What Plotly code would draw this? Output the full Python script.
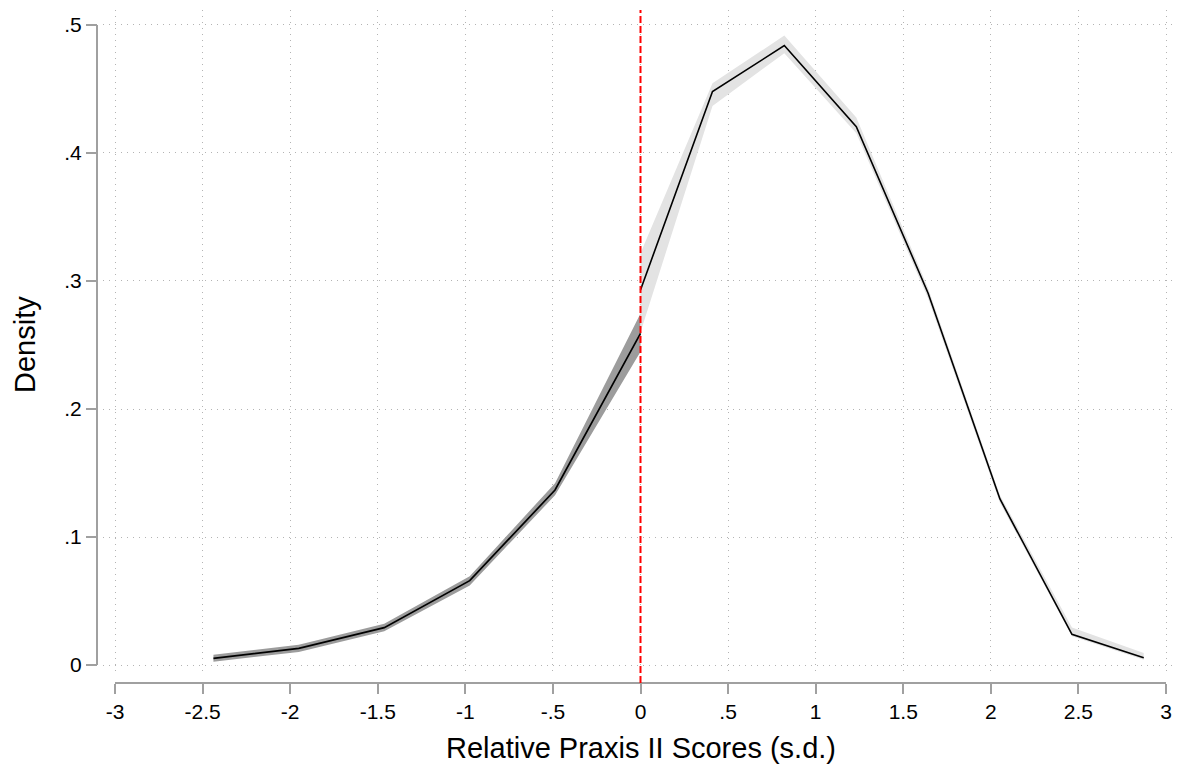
import plotly.graph_objects as go

# ---- data ----
left_x = [-2.438, -1.951, -1.463, -0.975, -0.488, 0.0]
left_y = [0.0052, 0.0130, 0.0292, 0.0659, 0.1367, 0.2591]
left_lo = [0.0026, 0.0102, 0.0264, 0.0622, 0.1326, 0.2448]
left_hi = [0.0080, 0.0158, 0.0322, 0.0694, 0.1420, 0.2747]

right_x = [0.0, 0.411, 0.821, 1.232, 1.642, 2.052, 2.463, 2.873]
right_y = [0.2930, 0.4480, 0.4839, 0.4206, 0.2904, 0.1297, 0.0240, 0.0057]
right_lo = [0.2600, 0.4367, 0.4780, 0.4154, 0.2864, 0.1267, 0.0224, 0.0042]
right_hi = [0.3216, 0.4544, 0.4917, 0.4277, 0.2944, 0.1327, 0.0294, 0.0094]

x_ticks = [-3, -2.5, -2, -1.5, -1, -0.5, 0, 0.5, 1, 1.5, 2, 2.5, 3]
x_ticktext = ["-3", "-2.5", "-2", "-1.5", "-1", "-.5", "0", ".5", "1", "1.5", "2", "2.5", "3"]
y_ticks = [0, 0.1, 0.2, 0.3, 0.4, 0.5]
y_ticktext = ["0", ".1", ".2", ".3", ".4", ".5"]

x_title = "Relative Praxis II Scores (s.d.)"
y_title = "Density"

FONT = "Liberation Sans, Arial, Helvetica, sans-serif"
AXIS_GREY = "#a0a0a0"
GRID = "#b4b4b4"
TICK_SIZE = 21
TITLE_SIZE = 29

fig = go.Figure()

def band(xs, lo, hi, color):
    return go.Scatter(x=list(xs) + list(xs)[::-1], y=list(hi) + list(lo)[::-1],
                      fill="toself", fillcolor=color, mode="lines",
                      line=dict(width=0, color=color), hoverinfo="skip", showlegend=False)

fig.add_trace(band(left_x, left_lo, left_hi, "#9c9c9c"))
fig.add_trace(band(right_x, right_lo, right_hi, "#e3e3e3"))
fig.add_trace(go.Scatter(x=left_x, y=left_y, mode="lines",
                         line=dict(color="black", width=1.7), showlegend=False))
fig.add_trace(go.Scatter(x=right_x, y=right_y, mode="lines",
                         line=dict(color="black", width=1.6), showlegend=False))

# layout geometry (page body has an 8px margin, so the figure is 8px smaller)
W, H = 1172, 759
ml, mr, mt, mb = 89, 2, 2, 84

fig.update_layout(
    width=W, height=H,
    margin=dict(l=ml, r=mr, t=mt, b=mb),
    paper_bgcolor="white", plot_bgcolor="white",
    font=dict(family=FONT, size=TICK_SIZE, color="black"),
    showlegend=False,
    xaxis=dict(
        domain=[6 / 1081, 1], range=[-3.0685, 3.0685],
        anchor="free", position=0,
        tickvals=x_ticks, ticktext=x_ticktext,
        ticks="outside", ticklen=10, tickwidth=2, tickcolor=AXIS_GREY,
        showline=False, zeroline=False,
        showgrid=True, gridcolor=GRID, gridwidth=1, griddash="1px,5px",
        tickfont=dict(size=TICK_SIZE, family=FONT, color="black"),
    ),
    yaxis=dict(
        domain=[8 / 673, 1], range=[-0.0078, 0.5117],
        anchor="free", position=0,
        tickvals=y_ticks, ticktext=y_ticktext,
        ticks="outside", ticklen=11, tickwidth=2, tickcolor=AXIS_GREY,
        showline=False, zeroline=False,
        showgrid=True, gridcolor=GRID, gridwidth=1, griddash="1px,5px",
        tickfont=dict(size=TICK_SIZE, family=FONT, color="black"),
    ),
)

# axis titles as annotations for precise placement
fig.add_annotation(text=x_title, xref="x", yref="paper", x=0, y=-0.0966,
                   xanchor="center", yanchor="middle", showarrow=False,
                   font=dict(size=TITLE_SIZE, family=FONT, color="black"))
fig.add_annotation(text=y_title, xref="paper", yref="y", x=-0.0666, y=0.25,
                   xanchor="center", yanchor="middle", showarrow=False, textangle=-90,
                   font=dict(size=TITLE_SIZE, family=FONT, color="black"))

# axis lines spanning only the tick range (Stata style)
fig.add_shape(type="line", xref="x", yref="paper", x0=x_ticks[0], x1=x_ticks[-1], y0=0, y1=0,
              line=dict(color=AXIS_GREY, width=2), layer="above")
fig.add_shape(type="line", xref="paper", yref="y", x0=0, x1=0, y0=y_ticks[0], y1=y_ticks[-1],
              line=dict(color=AXIS_GREY, width=2), layer="above")
# red dashed reference line at 0
fig.add_shape(type="line", xref="x", yref="paper", x0=0, x1=0, y0=0, y1=1.0,
              line=dict(color="#ff0000", width=2, dash="7px,3px"), layer="above")

fig.write_html("out.html")
